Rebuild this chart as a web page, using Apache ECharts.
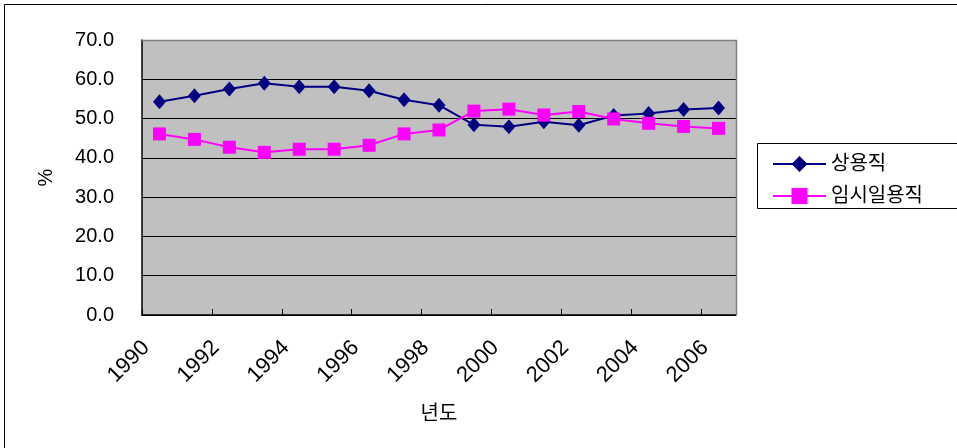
<!DOCTYPE html>
<html>
<head>
<meta charset="utf-8">
<style>
  html, body { margin: 0; padding: 0; background: #fff; }
  #chart { width: 957px; height: 448px; }
</style>
<script src="https://cdn.jsdelivr.net/npm/echarts@6/dist/echarts.min.js"></script>
</head>
<body>
<div id="chart"></div>
<script>
// 연도별 상용직 / 임시일용직 비율 (%)
const years = ['1990','1991','1992','1993','1994','1995','1996','1997','1998',
               '1999','2000','2001','2002','2003','2004','2005','2006'];
const regular = [54.3, 55.8, 57.5, 59.0, 58.1, 58.1, 57.1, 54.8, 53.4,
                 48.4, 47.9, 49.2, 48.3, 50.8, 51.3, 52.3, 52.7];
const temporary = [46.1, 44.7, 42.7, 41.4, 42.2, 42.2, 43.2, 46.1, 47.1,
                   51.9, 52.4, 50.9, 51.8, 49.9, 48.8, 48.0, 47.5];
const seriesNames = ['상용직', '임시일용직'];

const FONT = '"Liberation Sans", "Noto Sans CJK KR", sans-serif';

const chart = echarts.init(document.getElementById('chart'), null, { renderer: 'canvas' });

chart.setOption({
  animation: false,
  backgroundColor: '#ffffff',
  textStyle: { fontFamily: FONT, color: '#000' },
  graphic: [
    // outer frame
    { type: 'rect', z: -1, shape: { x: 4.5, y: 4.5, width: 1000, height: 1000 },
      style: { fill: 'none', stroke: '#000', lineWidth: 1 } },
    // legend frame
    { type: 'rect', z: 1, shape: { x: 757.5, y: 143.5, width: 260, height: 65 },
      style: { fill: '#fff', stroke: '#000', lineWidth: 1 } },
    // plot area top / right border
    { type: 'polyline', z: 3, shape: { points: [[142, 40.5], [736.5, 40.5], [736.5, 315]] },
      style: { stroke: '#808080', lineWidth: 1.5, fill: 'none' } }
  ],
  grid: {
    left: 142, right: 221, top: 40, bottom: 133,
    show: true, backgroundColor: '#c0c0c0', borderWidth: 0
  },
  legend: {
    orient: 'vertical',
    left: 767, top: 147,
    itemWidth: 53, itemHeight: 20,
    itemGap: 8,
    z: 4,
    textStyle: { fontFamily: FONT, fontSize: 20, lineHeight: 24, color: '#000', padding: [0, 0, 0, 0] },
    data: seriesNames
  },
  xAxis: {
    type: 'category',
    data: years,
    boundaryGap: true,
    name: '년도',
    nameLocation: 'middle',
    nameGap: 89,
    nameTextStyle: { fontFamily: FONT, fontSize: 20, color: '#000' },
    axisLine: { lineStyle: { color: '#000', width: 1.5 } },
    axisTick: { show: true, inside: true, length: 6, lineStyle: { color: '#000' } },
    axisLabel: {
      interval: 1, rotate: 45, margin: 16,
      padding: [0, 19, 0, 0],
      fontFamily: FONT, fontSize: 22, color: '#000'
    },
    splitLine: { show: false }
  },
  yAxis: {
    type: 'value',
    min: 0, max: 70, interval: 10,
    name: '%',
    nameLocation: 'middle',
    nameGap: 86,
    nameRotate: 90,
    nameTextStyle: { fontFamily: FONT, fontSize: 20, color: '#000' },
    axisLine: { show: true, lineStyle: { color: '#000', width: 1.5 } },
    axisTick: { show: true, inside: true, length: 6, lineStyle: { color: '#000' } },
    axisLabel: {
      margin: 28, fontFamily: FONT, fontSize: 20, color: '#000',
      formatter: v => v.toFixed(1)
    },
    splitLine: { show: true, lineStyle: { color: '#000', width: 1 } }
  },
  series: [
    {
      name: seriesNames[0],
      type: 'line',
      data: regular,
      symbol: 'diamond',
      symbolSize: [13, 15],
      color: '#000080',
      lineStyle: { color: '#000080', width: 2 },
      itemStyle: { color: '#000080' },
      z: 5
    },
    {
      name: seriesNames[1],
      type: 'line',
      data: temporary,
      symbol: 'rect',
      symbolSize: 13,
      color: '#ff00ff',
      lineStyle: { color: '#ff00ff', width: 2 },
      itemStyle: { color: '#ff00ff' },
      z: 6
    }
  ]
});
</script>
</body>
</html>
